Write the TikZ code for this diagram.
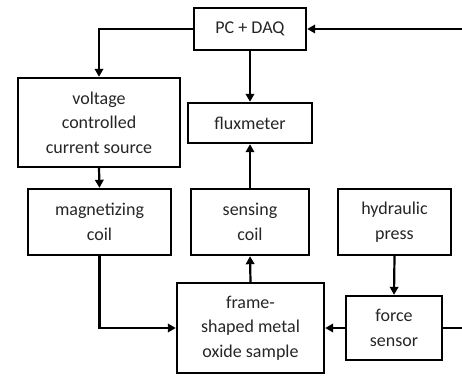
\documentclass[tikz,border=0pt]{standalone}
\usepackage{fontspec}
\setmainfont{Carlito}
\usetikzlibrary{arrows.meta}
\begin{document}
\begin{tikzpicture}[x=1pt,y=-1pt,
  box/.style={draw=black, line width=2.4pt, align=center, inner sep=0pt,
    font=\fontsize{18}{24.5}\selectfont, text=black!85},
  arr/.style={line width=2.2pt, -{Triangle[length=8pt,width=8.5pt]}},
  ln/.style={line width=2.2pt}]
\clip (0,0) rectangle (462,379);
\fill[white] (0,0) rectangle (462,379);
\node[box, minimum width=112pt, minimum height=42pt] (pc) at (250,29) {PC + DAQ};
\node[box, minimum width=162pt, minimum height=89pt] (vccs) at (99,122.5) {voltage\\controlled\\current source};
\node[box, minimum width=124pt, minimum height=40pt] (flux) at (250,123) {fluxmeter};
\node[box, minimum width=143pt, minimum height=66pt] (mag) at (99.5,222) {magnetizing\\coil};
\node[box, minimum width=118pt, minimum height=66pt] (sens) at (250,222) {sensing\\coil};
\node[box, minimum width=113pt, minimum height=66pt] (hyd) at (394.5,222) {hydraulic\\press};
\node[box, minimum width=147pt, minimum height=90pt] (samp) at (250.5,328) {frame-\\shaped metal\\oxide sample};
\node[box, minimum width=96pt, minimum height=64pt] (force) at (394,328) {force\\sensor};
\coordinate (rb) at (475,328);
\coordinate (rt) at (475,29);
\draw[arr] (pc.west) -| (vccs.north);
\draw[arr] (pc.south) -- (flux.north);
\draw[arr] (vccs.south) -- (mag.north);
\draw[arr] (sens.north) -- (flux.south);
\draw[arr] (mag.south) |- (samp.west);
\draw[arr] (samp.north) -- (sens.south);
\draw[arr] (hyd.south) -- (force.north);
\draw[arr] (force.west) -- (samp.east);
\draw[arr] (force.east) -- (rb) -- (rt) -- (pc.east);
\end{tikzpicture}
\end{document}
